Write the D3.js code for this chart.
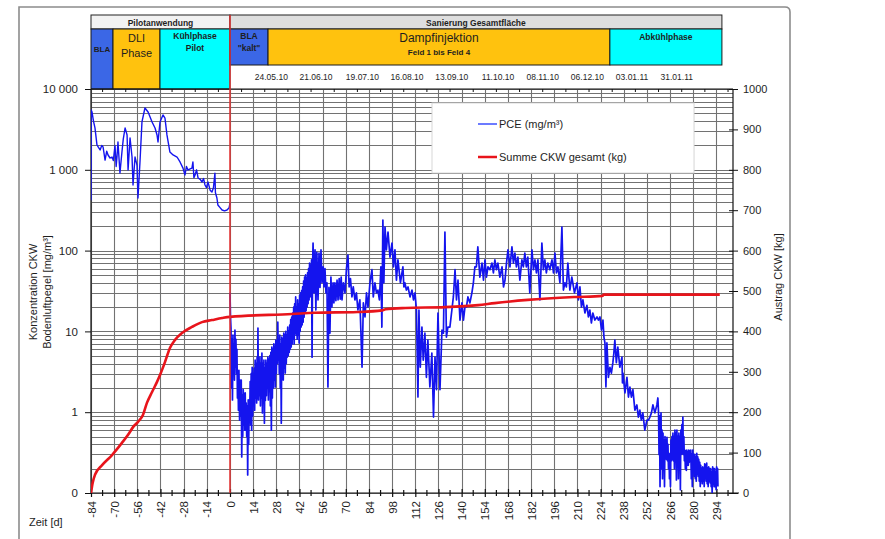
<!DOCTYPE html>
<html>
<head>
<meta charset="utf-8">
<script src="https://cdn.jsdelivr.net/npm/d3@7"></script>
<style>
  body { margin: 0; background: #fff; }
  svg { display: block; font-family: "Liberation Sans", Arial, sans-serif; }
</style>
</head>
<body>
<svg id="chart" width="885" height="539"></svg>
<script>
// ---- tick labels -------------------------------------------------------
const dayTicks = [-84, -70, -56, -42, -28, -14, 0, 14, 28, 42, 56, 70, 84, 98, 112, 126,
  140, 154, 168, 182, 196, 210, 224, 238, 252, 266, 280, 294];
const concTicks = [10000, 1000, 100, 10, 1, 0.1];
const concTickLabels = ["10 000", "1 000", "100", "10", "1", "0"];
const massTicks = [0, 100, 200, 300, 400, 500, 600, 700, 800, 900, 1000];

// ---- project phases (days) ---------------------------------------------
const headerGroups = [
  { label: "Pilotanwendung", from: -84, to: 0, fill: "#f2f2f2" },
  { label: "Sanierung Gesamtfläche", from: 0, to: 297.3, fill: "#dedede" }
];
const phases = [
  { lines: ["BLA"], from: -84, to: -70.7, fill: "#3b67e6", pilot: true, size: 8, bold: true },
  { lines: ["DLI", "Phase"], from: -70.7, to: -42.3, fill: "#ffc20e", pilot: true, size: 11, bold: false },
  { lines: ["Kühlphase", "Pilot"], from: -42.3, to: 0, fill: "#00ffff", pilot: true, size: 8.5, bold: true },
  { lines: ["BLA", "\"kalt\""], from: 0, to: 23, fill: "#3b67e6", pilot: false, size: 8.5, bold: true },
  { lines: ["Dampfinjektion", "Feld 1 bis Feld 4"], from: 23, to: 229.6, fill: "#ffc20e", pilot: false, size: 12, bold: false },
  { lines: ["Abkühlphase"], from: 229.6, to: 297.3, fill: "#00ffff", pilot: false, size: 8.5, bold: true }
];
const dateLabels = ["24.05.10", "21.06.10", "19.07.10", "16.08.10", "13.09.10",
  "11.10.10", "08.11.10", "06.12.10", "03.01.11", "31.01.11"];
const dateDays = [25, 52, 80, 107, 134, 162, 189, 216, 243, 270];

// ---- PCE soil-air concentration [mg/m³], pilot phase -------------------
const pcePilot = [
  [-84, 420], [-83.9, 5500], [-83.4, 5200], [-82.5, 4000], [-81.6, 3300], [-80.4, 2030],
  [-79.5, 1900], [-78.5, 1760], [-77.5, 2000], [-76.7, 1915], [-75.5, 1320], [-74.5, 1700],
  [-73.7, 1525], [-72.5, 1400], [-71.3, 1440], [-70.5, 1300], [-69.5, 2000], [-68.8, 1100],
  [-68.3, 1440], [-67.7, 2210], [-66.5, 912], [-65.3, 1660], [-64.5, 2400], [-63.4, 3290],
  [-62.2, 2700], [-61.6, 995], [-60.4, 2475], [-59.2, 1440], [-58.6, 649], [-57.4, 1440],
  [-56.2, 1145], [-55.6, 448], [-54.4, 1250], [-53.2, 3910], [-51.4, 5820], [-49.5, 5190],
  [-47.1, 3910], [-45.3, 3290], [-44.1, 2700], [-43.5, 2210], [-42.3, 3910], [-40.5, 4770],
  [-39.3, 4375], [-38.1, 2700], [-36.3, 1660], [-34.4, 1525], [-32, 1440], [-30.2, 1250],
  [-28.4, 1050], [-27.2, 863], [-26.3, 1100], [-25.4, 995], [-23, 1050], [-22.4, 1250],
  [-21.8, 800], [-21.1, 863], [-20.2, 1000], [-19.3, 792], [-18, 760], [-16.9, 707],
  [-16, 780], [-15.1, 649], [-14.2, 600], [-13.3, 707], [-12, 560], [-10.9, 531],
  [-10, 600], [-9.1, 910], [-8.8, 520], [-7.9, 448], [-7.3, 366], [-6, 340], [-4.8, 318],
  [-3.3, 310], [-1.8, 318], [-0.5, 340], [0, 390]
];

// ---- PCE soil-air concentration [mg/m³], full-scale remediation --------
const pceMain = [
  [0, 30], [0.3, 15], [0.6, 11], [0.9, 2], [1.2, 8], [1.5, 1.42], [1.8, 9], [2.1, 3], [2.4, 7],
  [2.7, 2.5], [3, 10.4], [3.3, 3.6], [3.6, 8], [3.9, 3], [4.2, 6], [4.5, 1.5], [4.8, 3.3],
  [5.1, 1.06], [5.4, 3.3], [5.8, 0.8], [6.2, 2.5], [6.5, 0.9], [6.8, 2.5], [7.1, 0.28],
  [7.4, 1.6], [7.7, 0.5], [8, 1.9], [8.3, 0.7], [8.6, 1.7], [8.9, 0.6], [9.2, 1.73], [9.5, 0.6],
  [9.8, 1.3], [10.1, 0.5], [10.4, 1.2], [10.7, 0.167], [11, 1.42], [11.3, 0.4], [11.6, 1.42],
  [11.9, 0.9], [12.2, 2.4], [12.5, 0.7], [12.8, 3], [13.1, 0.6], [13.4, 3.6], [13.7, 0.9],
  [14, 3], [14.3, 1.2], [14.6, 3.5], [14.9, 1.06], [15.2, 4.4], [15.5, 1.5], [15.8, 4],
  [16.1, 1.3], [16.4, 4.8], [16.7, 1.5], [16.9, 11], [17.2, 1.42], [17.5, 4], [17.8, 1.6],
  [18.1, 4.8], [18.4, 1.2], [18.7, 4], [19, 1.5], [19.3, 5.4], [19.6, 0.98], [19.9, 4],
  [20.2, 1.3], [20.5, 4.4], [20.8, 0.73], [21.1, 3.5], [21.4, 1.4], [21.7, 4.4], [22, 1.6],
  [22.3, 4], [22.6, 2], [22.9, 4.8], [23.2, 1.42], [23.5, 4.5], [23.8, 1.8], [24.1, 5],
  [24.4, 1.2], [24.7, 5.5], [25, 0.6], [25.3, 6.4], [25.6, 1.5], [25.9, 6], [26.2, 2], [26.5, 7],
  [26.8, 2.5], [27.1, 6.5], [27.4, 2.05], [27.7, 7.8], [28, 3], [28.3, 7], [28.6, 4], [28.9, 13],
  [29.2, 4.4], [29.5, 8], [29.8, 3], [30.1, 9], [30.4, 2], [30.7, 7], [31, 0.73], [31.3, 8.5],
  [31.6, 3], [31.9, 8], [32.2, 2.5], [32.5, 9.5], [32.8, 3.5], [33.1, 9], [33.4, 3.05],
  [33.7, 10], [34, 4], [34.3, 9], [34.6, 4.8], [34.9, 11.3], [35.2, 5], [35.5, 10], [35.8, 5.5],
  [36.1, 12], [36.4, 6], [36.7, 14], [37, 6.4], [37.3, 15], [37.6, 7], [37.9, 16.9], [38.2, 8],
  [38.5, 20], [38.8, 7], [39.1, 22], [39.4, 9.5], [39.7, 26.7], [40, 9], [40.3, 20], [40.6, 8],
  [40.9, 24.5], [41.2, 9], [41.5, 22], [41.8, 7.2], [42.1, 28], [42.4, 10], [42.7, 30],
  [43, 11.3], [43.3, 32], [43.6, 12], [43.9, 35.5], [44.2, 13], [44.5, 42], [44.8, 15],
  [45.1, 47], [45.4, 16.9], [45.7, 50], [46, 18], [46.3, 45], [46.6, 20], [46.9, 53], [47.2, 22],
  [47.5, 60], [47.8, 24.5], [48.1, 70], [48.4, 26.7], [48.7, 65], [49, 30], [49.3, 77],
  [49.6, 4.8], [49.9, 60], [50.2, 124], [50.8, 30], [51.4, 102], [51.9, 18.4], [52.5, 95],
  [53.2, 24.5], [53.8, 93], [54.4, 35], [55, 102], [55.6, 40], [56.3, 63], [56.8, 35.5],
  [57.4, 60], [58, 30], [58.6, 40], [59.2, 2.05], [59.8, 35], [60.4, 9.5], [61, 47], [61.6, 20],
  [62.3, 40], [62.8, 22.5], [63.4, 40], [64, 24], [64.7, 43], [65.3, 24.5], [66, 45], [66.6, 25],
  [67.2, 47], [67.7, 24.5], [68.5, 40], [69.5, 30], [70.4, 60], [71.3, 88], [72, 35.5],
  [72.8, 45], [73.7, 26.7], [74.5, 35.5], [75.5, 24.5], [76.4, 30], [77.3, 18.4], [78.5, 24.5],
  [79.8, 3.6], [80.6, 22.5], [81.6, 15.1], [82.5, 30], [83.4, 20], [84.6, 40], [85.8, 58],
  [86.6, 26.7], [87.6, 40], [88.5, 30], [89.4, 32.5], [90.3, 24.5], [91.2, 63], [91.8, 11.3],
  [92.4, 239], [93, 40], [93.7, 196], [94.5, 102], [95.5, 170], [96.7, 83], [97.9, 124],
  [98.8, 63], [99.7, 102], [100.6, 43], [101.5, 77], [103, 40], [104.5, 63], [105.1, 35.5],
  [105.7, 40], [106.6, 32.5], [107.6, 35.5], [108.8, 26.7], [110, 32.5], [110.9, 24.5],
  [111.8, 30], [112.7, 18.4], [113.6, 1.54], [114.2, 18.4], [115, 3.6], [116, 11.3],
  [116.8, 4.4], [117.8, 9.5], [118.7, 2.7], [119.6, 7.8], [120.8, 2.05], [122, 5.4],
  [123, 0.87], [123.9, 4.8], [124.8, 1.9], [125.7, 16.9], [126.9, 1.9], [128.1, 10.4],
  [129, 9.5], [129.9, 170], [130.8, 8.5], [131.7, 11.3], [132.9, 11.3], [134.1, 18.4],
  [135, 26.7], [136, 58], [136.9, 24.5], [137.8, 43], [139, 13.8], [140.2, 22.5], [141.1, 13.8],
  [142, 20], [142.9, 20], [143.8, 26.7], [145, 22.5], [146.2, 30], [147.1, 40], [148, 63],
  [148.9, 63], [149.8, 111], [151, 47], [152.3, 70], [153.2, 43], [154.1, 77], [155, 47],
  [155.9, 63], [157.1, 58], [158.3, 70], [159.2, 53], [160.1, 77], [161, 58], [161.9, 70],
  [163.1, 47], [164.4, 63], [165.3, 35.5], [166.2, 43], [167.1, 70], [168, 102], [169.2, 63],
  [170.4, 111], [171.3, 70], [172.2, 93], [173.1, 63], [174, 83], [175.2, 43], [176.4, 77],
  [177.3, 63], [178.2, 93], [179.1, 63], [180, 83], [181.2, 30], [182.5, 102], [183.4, 58],
  [184.3, 77], [185.2, 53], [186.1, 77], [187.3, 24.5], [188.5, 124], [189.4, 58], [190.3, 77],
  [191.2, 53], [192.1, 70], [193.3, 58], [194.6, 77], [195.5, 53], [196.4, 93], [197.3, 53],
  [198.2, 63], [199.4, 40], [200.6, 196], [201.5, 32.5], [202.4, 40], [203.3, 35.5],
  [204.2, 70], [205.4, 32.5], [206.6, 47], [208.2, 30], [209.7, 40], [210.6, 24.5],
  [211.5, 35.5], [212.4, 20], [213.3, 24.5], [214.5, 16.9], [215.7, 21], [216.6, 15.1],
  [217.5, 18.4], [218.4, 12.7], [219.3, 16.9], [220.5, 13.8], [221.8, 15.1], [222.7, 13.8],
  [223.6, 15.1], [224.5, 10.4], [225.4, 13.8], [226, 8.5], [226.6, 7.2], [227.2, 2.05],
  [227.8, 7.2], [228.7, 2.7], [229.6, 3.6], [230.5, 3.05], [231.4, 4.1], [232, 5.4],
  [232.6, 7.8], [233.5, 4.1], [234.4, 6.4], [235.6, 3.6], [236.9, 4.8], [237.2, 2.3],
  [237.5, 3.05], [238.7, 1.73], [239.9, 2.7], [240.8, 1.54], [241.7, 2.05], [242.6, 1.54],
  [243.5, 1.9], [244.7, 1.06], [245.9, 1.23], [246.8, 0.87], [247.7, 1.06], [248.6, 0.8],
  [249.5, 0.98], [250.7, 0.6], [252, 0.8], [252.9, 0.8], [253.8, 0.87], [254.7, 0.98],
  [255.6, 1.23], [256.8, 0.98], [258, 1.23], [258.6, 1.5], [259, 0.98], [259.3, 0.3],
  [259.6, 0.9], [259.9, 0.12], [260.2, 0.7], [260.5, 0.98], [260.8, 0.2], [261.1, 0.6],
  [261.4, 0.15], [261.7, 0.55], [262, 0.2], [262.3, 0.45], [262.6, 0.12], [262.9, 0.5],
  [263.2, 0.3], [263.5, 0.45], [263.8, 0.26], [264.1, 0.49], [264.4, 0.25], [264.7, 0.4],
  [265, 0.2], [265.3, 0.31], [265.6, 0.15], [265.9, 0.3], [266.2, 0.12], [266.5, 0.45],
  [266.8, 0.25], [267.1, 0.5], [267.4, 0.26], [267.7, 0.55], [268, 0.25], [268.3, 0.5],
  [268.6, 0.2], [268.9, 0.6], [269.2, 0.3], [269.5, 0.55], [269.8, 0.145], [270.1, 0.6],
  [270.4, 0.25], [270.7, 0.5], [271, 0.15], [271.3, 0.55], [271.6, 0.2], [271.9, 0.5],
  [272.2, 0.11], [272.5, 0.6], [272.8, 0.3], [273.1, 0.7], [273.4, 0.31], [273.7, 0.87],
  [274, 0.3], [274.3, 0.5], [274.6, 0.25], [274.9, 0.34], [275.2, 0.2], [275.5, 0.33],
  [275.8, 0.19], [276.1, 0.34], [276.4, 0.22], [276.7, 0.32], [277, 0.22], [277.3, 0.34],
  [277.6, 0.24], [277.9, 0.33], [278.2, 0.26], [278.5, 0.34], [278.8, 0.15], [279.1, 0.3],
  [279.4, 0.12], [279.7, 0.34], [280, 0.18], [280.3, 0.3], [280.6, 0.16], [280.9, 0.3],
  [281.2, 0.15], [281.5, 0.28], [281.8, 0.14], [282.1, 0.31], [282.4, 0.17], [282.7, 0.28],
  [283, 0.16], [283.3, 0.26], [283.6, 0.14], [283.9, 0.24], [284.2, 0.12], [284.5, 0.22],
  [284.8, 0.14], [285.1, 0.2], [285.4, 0.13], [285.7, 0.21], [286, 0.14], [286.3, 0.2],
  [286.6, 0.12], [286.9, 0.23], [287.2, 0.15], [287.5, 0.22], [287.8, 0.14], [288.1, 0.235],
  [288.4, 0.13], [288.7, 0.2], [289, 0.12], [289.3, 0.21], [289.6, 0.14], [289.9, 0.2],
  [290.2, 0.133], [290.5, 0.2], [290.8, 0.12], [291.1, 0.18], [291.4, 0.1], [291.7, 0.21],
  [292, 0.13], [292.3, 0.2], [292.6, 0.12], [292.9, 0.2], [293.2, 0.12], [293.5, 0.18],
  [293.8, 0.11], [294.1, 0.21], [294.4, 0.13], [294.7, 0.2], [294.9, 0.12]
];

// ---- cumulative CKW removal [kg] -------------------------------------
const sumCkw = [
  [-84, 0], [-83, 25], [-81.6, 45], [-77.3, 69], [-71.3, 94], [-65.3, 124], [-61.6, 144],
  [-58.6, 163], [-55.6, 176], [-52.6, 193], [-50.2, 223], [-47.1, 250], [-44.1, 275],
  [-42.3, 292], [-39.3, 324], [-36.3, 359], [-33.2, 379], [-29, 396], [-23, 411],
  [-16.9, 423], [-10.9, 428], [-4.8, 433], [0, 436], [37.5, 443], [51, 446], [77, 448],
  [92, 452], [94, 455], [106, 458], [130, 460], [150, 465], [160, 470], [180, 478],
  [208, 485], [225, 488], [226, 491], [296, 491]
];

// ---- layout -------------------------------------------------------------
const svg = d3.select("#chart");
const plot = { left: 91, right: 733, top: 89, bottom: 493 };
const head = { top: 15, row1: 29, row2: 65 };
const textCol = "#1e1e1e";

const x = d3.scaleLinear().domain([-84, 304]).range([plot.left, plot.right]);
const yConc = d3.scaleLog().domain([0.1, 10000]).range([plot.bottom, plot.top]);
const yMass = d3.scaleLinear().domain([0, 1000]).range([plot.bottom, plot.top]);

svg.append("rect").attr("width", 885).attr("height", 539).attr("fill", "#fff");

// outer frame
svg.append("path")
  .attr("d", "M19,545V7H785Q790,7 790,12V545")
  .attr("fill", "none").attr("stroke", "#8c8c8c").attr("stroke-width", 1.6);

// plot background + clip
svg.append("rect").attr("x", plot.left).attr("y", plot.top)
  .attr("width", plot.right - plot.left).attr("height", plot.bottom - plot.top)
  .attr("fill", "#fff");
svg.append("clipPath").attr("id", "plotClip").append("rect")
  .attr("x", plot.left).attr("y", plot.top)
  .attr("width", plot.right - plot.left).attr("height", plot.bottom - plot.top);

// grid
const grid = svg.append("g").attr("stroke", "#727272").attr("stroke-width", 1.1);
grid.selectAll("line.h").data(yConc.ticks()).join("line")
  .attr("x1", plot.left).attr("x2", plot.right)
  .attr("y1", d => Math.round(yConc(d)) + 0.5).attr("y2", d => Math.round(yConc(d)) + 0.5);
grid.selectAll("line.v").data(dayTicks).join("line")
  .attr("y1", plot.top).attr("y2", plot.bottom)
  .attr("x1", d => Math.round(x(d)) + 0.5).attr("x2", d => Math.round(x(d)) + 0.5);

// legend box (drawn over the grid, under the data)
const lg = svg.append("g");
lg.append("rect").attr("x", 432).attr("y", 103).attr("width", 262).attr("height", 70)
  .attr("fill", "#fff").attr("stroke", "#d8d8d8").attr("stroke-width", 1);
lg.append("line").attr("x1", 478).attr("x2", 497).attr("y1", 124).attr("y2", 124)
  .attr("stroke", "#3b4fff").attr("stroke-width", 1.5);
lg.append("text").attr("x", 499).attr("y", 128).attr("font-size", 11).attr("fill", textCol)
  .text("PCE (mg/m³)");
lg.append("line").attr("x1", 478).attr("x2", 497).attr("y1", 157).attr("y2", 157)
  .attr("stroke", "#e8141b").attr("stroke-width", 2.5);
lg.append("text").attr("x", 499).attr("y", 161).attr("font-size", 11).attr("fill", textCol)
  .text("Summe CKW gesamt (kg)");

// header
const hg = svg.append("g");
hg.selectAll("rect.grp").data(headerGroups).join("rect")
  .attr("x", d => x(d.from)).attr("width", d => x(d.to) - x(d.from))
  .attr("y", head.top).attr("height", head.row1 - head.top)
  .attr("fill", d => d.fill).attr("stroke", "#222").attr("stroke-width", 1);
hg.selectAll("text.grp").data(headerGroups).join("text")
  .attr("x", d => (x(d.from) + x(d.to)) / 2).attr("y", head.row1 - 3.5)
  .attr("text-anchor", "middle").attr("font-size", 8.5).attr("font-weight", "bold")
  .attr("fill", textCol).text(d => d.label);

hg.selectAll("rect.ph").data(phases).join("rect")
  .attr("x", d => x(d.from)).attr("width", d => x(d.to) - x(d.from))
  .attr("y", head.row1).attr("height", d => (d.pilot ? plot.top : head.row2) - head.row1)
  .attr("fill", d => d.fill).attr("stroke", "#1a1a1a").attr("stroke-width", 1);

phases.forEach(p => {
  const cx = (x(p.from) + x(p.to)) / 2;
  const t = hg.append("text").attr("text-anchor", "middle").attr("fill", textCol)
    .attr("font-weight", p.bold ? "bold" : "normal");
  p.lines.forEach((ln, i) => {
    let fs = p.size, y;
    if (p.lines.length === 1) y = p.lines[0] === "BLA" ? 52 : 40;
    else if (p.lines[0] === "Dampfinjektion") { y = i === 0 ? 42 : 55; fs = i === 0 ? 12 : 8; }
    else if (p.lines[0] === "DLI") y = i === 0 ? 42 : 57;
    else y = i === 0 ? 39 : 51;
    t.append("tspan").attr("x", cx).attr("y", y).attr("font-size", fs)
      .attr("font-weight", (p.lines[0] === "Dampfinjektion" && i === 1) ? "bold" : null)
      .text(ln);
  });
});

// calendar dates row
hg.selectAll("text.date").data(dateLabels).join("text")
  .attr("x", (d, i) => x(dateDays[i])).attr("y", 80)
  .attr("text-anchor", "middle").attr("font-size", 8.5).attr("fill", textCol)
  .text(d => d);

// axes lines
const ax = svg.append("g").attr("stroke", "#111").attr("stroke-width", 1.2);
ax.append("line").attr("x1", plot.left).attr("x2", plot.left).attr("y1", plot.top).attr("y2", plot.bottom);
ax.append("line").attr("x1", plot.right).attr("x2", plot.right).attr("y1", plot.top).attr("y2", plot.bottom);
ax.append("line").attr("x1", plot.left).attr("x2", plot.right + 6).attr("y1", plot.bottom).attr("y2", plot.bottom);
ax.append("line").attr("x1", plot.left).attr("x2", plot.right).attr("y1", plot.top).attr("y2", plot.top);

// left (log) axis
const leftAxis = svg.append("g").attr("transform", `translate(${plot.left},0)`)
  .call(d3.axisLeft(yConc).tickValues(concTicks).tickSize(6).tickPadding(7)
    .tickFormat((d, i) => concTickLabels[i]));
leftAxis.select(".domain").remove();
leftAxis.selectAll("text").attr("font-size", 11.5).attr("fill", textCol)
  .attr("font-family", "Liberation Sans, Arial, sans-serif");
leftAxis.selectAll("line").attr("stroke", "#111");

// right (mass) axis
const rightAxis = svg.append("g").attr("transform", `translate(${plot.right},0)`)
  .call(d3.axisRight(yMass).tickValues(massTicks).tickSize(5).tickPadding(5).tickFormat(d3.format("d")));
rightAxis.select(".domain").remove();
rightAxis.selectAll("line").attr("x1", -4).attr("stroke", "#111");
rightAxis.selectAll("text").attr("font-size", 11).attr("fill", textCol)
  .attr("font-family", "Liberation Sans, Arial, sans-serif");

// bottom (time) axis: major ticks every 14 d, minor halfway between
const minorDays = dayTicks.map(d => d + 7).filter(d => d < 304);
svg.append("g").selectAll("line").data(minorDays).join("line")
  .attr("x1", d => x(d)).attr("x2", d => x(d))
  .attr("y1", plot.bottom - 3).attr("y2", plot.bottom + 3)
  .attr("stroke", "#111").attr("stroke-width", 1.2);
svg.append("g").selectAll("line").data(minorDays).join("line")
  .attr("x1", d => x(d)).attr("x2", d => x(d))
  .attr("y1", plot.top).attr("y2", plot.top + 3)
  .attr("stroke", "#111").attr("stroke-width", 1);
const bottomAxis = svg.append("g").attr("transform", `translate(0,${plot.bottom})`)
  .call(d3.axisBottom(x).tickValues(dayTicks).tickSize(4).tickFormat(d => String(d)));
bottomAxis.select(".domain").remove();
bottomAxis.selectAll("line").attr("y1", -4).attr("stroke", "#111").attr("stroke-width", 1.2);
bottomAxis.selectAll("text")
  .attr("font-size", 11.5).attr("fill", textCol)
  .attr("font-family", "Liberation Sans, Arial, sans-serif")
  .attr("transform", "rotate(-90)")
  .attr("text-anchor", "end").attr("dy", "0.35em").attr("y", 0).attr("x", -8);

// data lines
const data = svg.append("g").attr("clip-path", "url(#plotClip)");
const concLine = d3.line().x(d => x(d[0])).y(d => yConc(Math.max(d[1], 0.1)));
data.append("path").datum(pcePilot).attr("d", concLine)
  .attr("fill", "none").attr("stroke", "#1414ee").attr("stroke-width", 1.4)
  .attr("stroke-linejoin", "round");
data.append("path").datum(pceMain).attr("d", concLine)
  .attr("fill", "none").attr("stroke", "#1414ee").attr("stroke-width", 1.7)
  .attr("stroke-linejoin", "round");
data.append("path").datum(sumCkw)
  .attr("d", d3.line().curve(d3.curveMonotoneX).x(d => x(d[0])).y(d => yMass(d[1])))
  .attr("fill", "none").attr("stroke", "#e8141b").attr("stroke-width", 2.6);

// start of full-scale remediation
svg.append("line").attr("x1", x(0)).attr("x2", x(0)).attr("y1", head.top).attr("y2", plot.bottom)
  .attr("stroke", "#e23030").attr("stroke-width", 1.5);

// axis titles
const titles = svg.append("g").attr("fill", textCol).attr("font-size", 11);
titles.append("text").attr("transform", "translate(37,292) rotate(-90)")
  .attr("text-anchor", "middle").text("Konzentration CKW");
titles.append("text").attr("transform", "translate(51,292) rotate(-90)")
  .attr("text-anchor", "middle").text("Bodenluftpegel [mg/m³]");
titles.append("text").attr("transform", "translate(782,277) rotate(-90)")
  .attr("text-anchor", "middle").text("Austrag CKW [kg]");
titles.append("text").attr("x", 29).attr("y", 526).text("Zeit [d]");
</script>
</body>
</html>
